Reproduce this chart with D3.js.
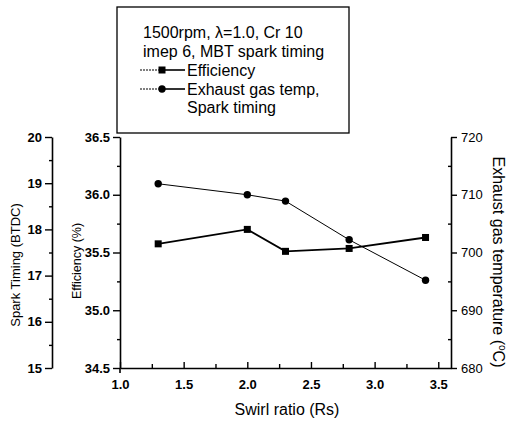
<!DOCTYPE html>
<html><head><meta charset="utf-8">
<script src="https://cdn.jsdelivr.net/npm/d3@7"></script>
<style>body{margin:0;background:#fff}svg{display:block}text{font-family:"Liberation Sans",Arial,sans-serif;fill:#000}</style>
</head><body><svg id="c" width="511" height="421"></svg>
<script>
const swirl = [1.3, 2.0, 2.3, 2.8, 3.4];
const efficiency = [35.575, 35.70, 35.51, 35.535, 35.63];
const exhaustTemp = [711.9, 710.0, 708.9, 702.2, 695.2];
const xTicks = [1.0, 1.5, 2.0, 2.5, 3.0, 3.5];
const effTicks = [34.5, 35.0, 35.5, 36.0, 36.5];
const sparkTicks = [15, 16, 17, 18, 19, 20];
const tempTicks = [680, 690, 700, 710, 720];
const legendLines = ["1500rpm, \u03bb=1.0, Cr 10", "imep 6, MBT spark timing"];
const seriesNames = ["Efficiency", "Exhaust gas temp,", "Spark timing"];

const svg = d3.select("#c");
const x = d3.scaleLinear().domain([1.0, 3.6]).range([120, 451]);
const yE = d3.scaleLinear().domain([34.5, 36.5]).range([368, 137]);
const yS = d3.scaleLinear().domain([15, 20]).range([368, 137]);
const yT = d3.scaleLinear().domain([680, 720]).range([368, 137]);

function styleAxis(g, fs, bold){
  g.selectAll("path").attr("stroke","#000").attr("stroke-width",1.6);
  g.selectAll("line").attr("stroke","#000").attr("stroke-width",1.4);
  g.selectAll("text").attr("font-size",fs).attr("font-family","Liberation Sans, Arial, sans-serif")
    .attr("font-weight", bold ? "bold" : "normal");
}
function minor(ticks){ const m=[]; for(let i=0;i<ticks.length-1;i++) m.push((ticks[i]+ticks[i+1])/2); return m; }

// X axis (ticks inward)
const gx = svg.append("g").attr("transform","translate(0,368)")
  .call(d3.axisBottom(x).tickValues(minor(xTicks)).tickSize(-4).tickFormat("").tickSizeOuter(0));
const gx2 = svg.append("g").attr("transform","translate(0,368)")
  .call(d3.axisBottom(x).tickValues(xTicks).tickSize(-6).tickPadding(12).tickFormat(d3.format(".1f")).tickSizeOuter(0));
styleAxis(gx,13,true); styleAxis(gx2,13,true);
gx.select("path").remove();
svg.append("line").attr("x1",x(1.0)).attr("x2",x(1.0)).attr("y1",368).attr("y2",373).attr("stroke","#000").attr("stroke-width",1.6);

// Efficiency axis
const ge1 = svg.append("g").attr("transform","translate(120,0)")
  .call(d3.axisLeft(yE).tickValues(minor(effTicks)).tickSize(3).tickFormat("").tickSizeOuter(0));
const ge2 = svg.append("g").attr("transform","translate(120,0)")
  .call(d3.axisLeft(yE).tickValues(effTicks).tickSize(7).tickPadding(3).tickFormat(d3.format(".1f")).tickSizeOuter(0));
styleAxis(ge1,13,true); styleAxis(ge2,13,true); ge1.select("path").remove();

// Spark axis
const gs1 = svg.append("g").attr("transform","translate(52,0)")
  .call(d3.axisLeft(yS).tickValues(minor(sparkTicks)).tickSize(3).tickFormat("").tickSizeOuter(0));
const gs2 = svg.append("g").attr("transform","translate(52,0)")
  .call(d3.axisLeft(yS).tickValues(sparkTicks).tickSize(7).tickPadding(3).tickFormat(d3.format("d")).tickSizeOuter(0));
styleAxis(gs1,13,true); styleAxis(gs2,13,true); gs1.select("path").remove();

// Temperature axis
const gt1 = svg.append("g").attr("transform","translate(451,0)")
  .call(d3.axisLeft(yT).tickValues(minor(tempTicks)).tickSize(3).tickFormat("").tickSizeOuter(0));
const gt2 = svg.append("g").attr("transform","translate(451,0)")
  .call(d3.axisRight(yT).tickValues(tempTicks).tickSize(6).tickPadding(4).tickFormat(d3.format("d")).tickSizeOuter(0));
styleAxis(gt1,13,false); styleAxis(gt2,13,false); gt1.select("path").remove();

// Axis titles
svg.append("text").attr("transform","translate(20,265) rotate(-90)").attr("text-anchor","middle").attr("font-size",13).text("Spark Timing (BTDC)");
svg.append("text").attr("transform","translate(81,261) rotate(-90)").attr("text-anchor","middle").attr("font-size",12.5).text("Efficiency (%)");
const rt = svg.append("text").attr("transform","translate(493,262) rotate(90)").attr("text-anchor","middle").attr("font-size",16);
rt.append("tspan").text("Exhaust gas temperature (");
rt.append("tspan").attr("font-size",10).attr("dy",-6).text("o");
rt.append("tspan").attr("dy",6).text("C)");
svg.append("text").attr("x",287).attr("y",415).attr("text-anchor","middle").attr("font-size",16).text("Swirl ratio (Rs)");

// Data lines
const effData = swirl.map((s,i)=>[s, efficiency[i]]);
const tData = swirl.map((s,i)=>[s, exhaustTemp[i]]);
svg.append("path").datum(tData).attr("fill","none").attr("stroke","#000").attr("stroke-width",1)
  .attr("d", d3.line().x(d=>x(d[0])).y(d=>yT(d[1])));
svg.append("path").datum(effData).attr("fill","none").attr("stroke","#000").attr("stroke-width",1.8)
  .attr("d", d3.line().x(d=>x(d[0])).y(d=>yE(d[1])));
svg.selectAll(".sq").data(effData).join("rect").attr("x",d=>x(d[0])-3.5).attr("y",d=>yE(d[1])-3.5)
  .attr("width",7).attr("height",7).attr("fill","#000");
svg.selectAll(".ci").data(tData).join("circle").attr("cx",d=>x(d[0])).attr("cy",d=>yT(d[1])).attr("r",3.7).attr("fill","#000");

// Legend
const lg = svg.append("g");
lg.append("rect").attr("x",117).attr("y",7).attr("width",232).attr("height",126).attr("fill","#fff").attr("stroke","#000").attr("stroke-width",1.3);
lg.selectAll(".lt").data(legendLines).join("text").attr("x",143).attr("y",(d,i)=>38+i*19).attr("font-size",16).text(d=>d);
const ly = [70, 89];
[0,1].forEach(i=>{
  lg.append("line").attr("x1",140).attr("x2",160).attr("y1",ly[i]).attr("y2",ly[i]).attr("stroke","#000").attr("stroke-width",1).attr("stroke-dasharray","2,1");
  lg.append("line").attr("x1",160).attr("x2",185).attr("y1",ly[i]).attr("y2",ly[i]).attr("stroke","#000").attr("stroke-width",1.6);
  if(i===0) lg.append("rect").attr("x",158.5).attr("y",ly[i]-3.5).attr("width",7).attr("height",7).attr("fill","#000");
  else lg.append("circle").attr("cx",162).attr("cy",ly[i]).attr("r",3.7).attr("fill","#000");
});
lg.selectAll(".st").data(seriesNames).join("text").attr("x",187).attr("y",(d,i)=>[76,95,113][i]).attr("font-size",16).text(d=>d);
</script></body></html>
